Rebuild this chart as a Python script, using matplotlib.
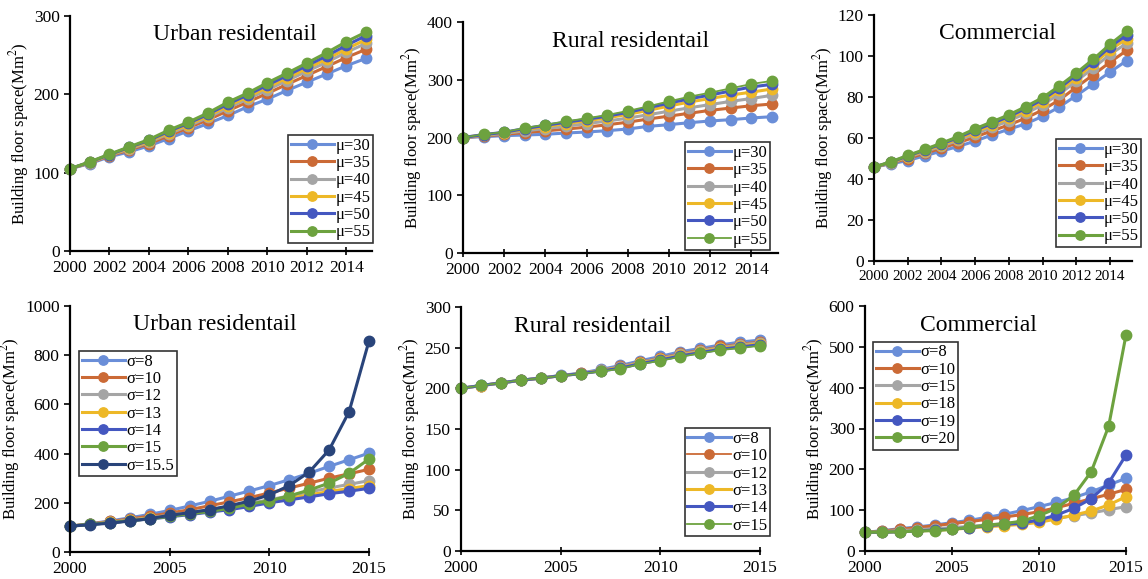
import matplotlib
matplotlib.use("Agg")
import matplotlib.pyplot as plt
from matplotlib.ticker import MultipleLocator

plt.rcParams['font.family'] = ['Liberation Serif', 'DejaVu Serif']
plt.rcParams['mathtext.fontset'] = 'stix'

years = list(range(2000, 2016))

# ---- Panel 1: Urban residential, mu scenarios
urban_mu_labels = ["μ=30", "μ=35", "μ=40", "μ=45", "μ=50", "μ=55"]
urban_mu30 = [105, 111.6, 120.2, 126.6, 134.2, 143.6, 153.4, 162.8, 173.0, 184.1, 193.9, 205.0, 215.6, 225.9, 236.5, 245.9]
urban_mu35 = [105, 112.4, 121.4, 128.9, 137.0, 147.2, 157.3, 167.6, 179.0, 190.2, 201.2, 212.8, 224.1, 235.4, 247.0, 257.5]
urban_mu40 = [105, 112.9, 122.1, 130.2, 138.8, 149.6, 159.6, 170.5, 182.7, 194.1, 205.8, 217.6, 229.5, 240.9, 253.7, 265.0]
urban_mu45 = [105, 113.2, 122.6, 131.2, 140.0, 151.2, 161.4, 172.6, 185.2, 196.7, 209.0, 220.9, 233.1, 245.0, 258.0, 270.0]
urban_mu50 = [105, 113.5, 123.1, 132.2, 141.3, 152.8, 163.1, 174.6, 187.6, 199.3, 211.8, 224.1, 236.6, 249.0, 262.5, 275.0]
urban_mu55 = [105, 113.8, 123.6, 133.0, 142.3, 154.3, 164.5, 176.4, 190.0, 201.6, 214.8, 227.1, 239.9, 253.1, 267.2, 279.5]

# ---- Panel 2: Rural residential, mu scenarios
rural_mu30 = [200, 201.4, 203.2, 204.3, 205.5, 207.8, 209.5, 211.8, 214.7, 219.3, 222.2, 225.7, 228.6, 230.9, 233.8, 236.0]
rural_mu35 = [200, 202.5, 205.5, 208.5, 211.5, 214.5, 218.0, 222.0, 226.5, 232.0, 237.0, 242.0, 247.0, 251.0, 255.0, 258.0]
rural_mu40 = [200, 203.5, 207.0, 211.5, 215.5, 219.5, 224.0, 228.5, 233.5, 239.5, 245.5, 251.5, 257.0, 262.5, 267.5, 273.0]
rural_mu45 = [200, 204.5, 208.5, 214.0, 219.0, 224.0, 229.0, 234.0, 240.0, 247.0, 254.5, 261.5, 267.5, 273.5, 278.5, 284.0]
rural_mu50 = [200, 205.0, 209.0, 215.5, 221.0, 226.5, 231.5, 237.0, 243.5, 251.5, 259.5, 267.0, 273.5, 280.5, 287.5, 292.0]
rural_mu55 = [200, 205.5, 209.5, 216.5, 222.2, 228.0, 233.2, 239.0, 245.9, 254.0, 262.6, 270.7, 277.6, 285.1, 292.6, 298.0]

# ---- Panel 3: Commercial, mu scenarios
comm_mu30 = [45.8, 47.4, 49.0, 51.3, 53.6, 55.9, 58.5, 61.5, 64.3, 66.9, 70.6, 75.2, 80.7, 86.4, 92.2, 97.8]
comm_mu35 = [45.8, 47.8, 50.0, 52.5, 55.0, 57.7, 60.5, 63.5, 66.4, 69.7, 73.7, 78.6, 84.8, 90.8, 97.0, 102.8]
comm_mu40 = [45.8, 48.0, 50.6, 53.3, 56.0, 58.9, 62.0, 65.2, 68.4, 72.0, 76.2, 81.5, 87.7, 94.2, 100.8, 106.3]
comm_mu45 = [45.8, 48.1, 50.9, 53.7, 56.6, 59.6, 63.0, 66.3, 69.6, 73.4, 77.7, 83.2, 89.4, 96.0, 103.0, 108.5]
comm_mu50 = [45.8, 48.3, 51.2, 54.1, 57.1, 60.2, 63.8, 67.1, 70.5, 74.4, 78.8, 84.4, 90.7, 97.3, 104.5, 110.3]
comm_mu55 = [45.8, 48.4, 51.5, 54.4, 57.5, 60.7, 64.5, 67.9, 71.3, 75.3, 79.7, 85.4, 91.7, 98.4, 105.7, 112.2]

# ---- Panel 4: Urban residential, sigma scenarios
urban_sig_labels = ["σ=8", "σ=10", "σ=12", "σ=13", "σ=14", "σ=15", "σ=15.5"]
urban_s8 = [105, 115, 126, 139, 153, 169, 187, 206, 227, 248, 270, 294, 320, 348, 375, 402]
urban_s10 = [105, 114, 124, 134, 146, 158, 172, 188, 204, 221, 240, 260, 280, 300, 318, 336]
urban_s12 = [105, 113, 121, 130, 139, 150, 160, 172, 185, 198, 212, 228, 244, 260, 275, 290]
urban_s13 = [105, 113, 120, 129, 137, 147, 157, 168, 180, 193, 205, 218, 232, 246, 258, 270]
urban_s14 = [105, 112, 119, 127, 134, 143, 152, 162, 172, 185, 200, 212, 224, 237, 247, 259]
urban_s15 = [105, 112, 119, 127, 135, 145, 155, 165, 178, 195, 208, 228, 252, 280, 320, 378]
urban_s155 = [105, 111, 117, 126, 136, 149, 160, 172, 188, 207, 232, 270, 325, 415, 570, 858]

# ---- Panel 5: Rural residential, sigma scenarios
rural_sig_labels = ["σ=8", "σ=10", "σ=12", "σ=13", "σ=14", "σ=15"]
rural_s8 = [200, 203.3, 206.6, 209.8, 212.6, 215.8, 218.6, 223.2, 228.1, 233.9, 239.2, 245.0, 249.0, 253.2, 256.9, 259.3]
rural_s10 = [200, 203.3, 206.6, 209.9, 212.6, 215.7, 218.4, 222.6, 227.1, 232.7, 237.8, 243.2, 247.4, 251.6, 255.0, 257.5]
rural_s12 = [200, 203.4, 206.6, 209.9, 212.6, 215.6, 218.2, 222.0, 226.2, 231.7, 236.5, 241.7, 245.9, 250.0, 253.3, 256.0]
rural_s13 = [200, 203.4, 206.7, 209.9, 212.5, 215.5, 218.1, 221.7, 225.6, 231.0, 235.6, 240.7, 244.8, 249.0, 252.0, 255.0]
rural_s14 = [200, 203.5, 206.7, 210.0, 212.5, 215.5, 218.0, 221.2, 224.8, 230.4, 234.8, 239.8, 243.9, 248.0, 250.8, 253.7]
rural_s15 = [200, 203.5, 206.7, 210.0, 212.5, 215.4, 217.8, 220.7, 224.0, 229.8, 233.9, 238.8, 242.9, 247.0, 249.5, 252.4]

# ---- Panel 6: Commercial, sigma scenarios
comm_sig_labels = ["σ=8", "σ=10", "σ=15", "σ=18", "σ=19", "σ=20"]
comm_s8 = [45.7, 49.8, 54.7, 58.8, 63.7, 69.4, 75.0, 82.4, 89.8, 98.8, 108.6, 119.0, 130.6, 145.0, 161.6, 178.0]
comm_s10 = [45.7, 49.0, 53.0, 57.0, 62.0, 67.0, 71.8, 77.6, 83.3, 89.0, 96.3, 106.0, 116.7, 128.0, 138.8, 151.0]
comm_s15 = [45.7, 47.3, 50.0, 52.0, 54.7, 57.0, 60.4, 63.7, 67.0, 71.0, 75.0, 80.0, 86.5, 93.0, 101.2, 108.6]
comm_s18 = [45.7, 45.9, 47.3, 49.0, 50.6, 53.0, 56.3, 59.6, 62.0, 65.3, 70.2, 78.4, 88.0, 98.0, 112.7, 133.0]
comm_s19 = [45.7, 46.0, 47.0, 49.0, 51.5, 54.0, 57.0, 62.0, 65.0, 68.0, 76.0, 88.0, 104.5, 128.0, 166.5, 235.0]
comm_s20 = [45.7, 46.5, 47.0, 49.0, 50.0, 53.0, 58.0, 63.0, 67.0, 73.0, 86.5, 104.5, 136.0, 194.0, 305.0, 529.0]

C_LBLUE = "#6A8ED8"
C_ORANGE = "#CB6A36"
C_GREY = "#A5A5A5"
C_YELLOW = "#EDB827"
C_BLUE = "#4457C0"
C_GREEN = "#6DA23F"
C_NAVY = "#29447A"

W, H = 1148, 579
fig = plt.figure(figsize=(W / 100, H / 100), dpi=100)


def add_ax(x0, x1, ytop, ybot):
    return fig.add_axes([x0 / W, 1 - ybot / H, (x1 - x0) / W, (ybot - ytop) / H])


def style(ax, ymax, ystep, xticks, xmax, title, title_xy, xtick_fs=12.5):
    ax.set_ylim(0, ymax)
    ax.yaxis.set_major_locator(MultipleLocator(ystep))
    ax.set_xlim(2000, xmax)
    ax.set_xticks(xticks)
    ax.set_xticklabels([str(t) for t in xticks])
    for s in ["top", "right"]:
        ax.spines[s].set_visible(False)
    for s in ["left", "bottom"]:
        ax.spines[s].set_linewidth(1.6)
    ax.tick_params(axis="both", labelsize=12.5, width=1.2, length=4, direction="out")
    ax.tick_params(axis="x", direction="inout", length=6, labelsize=xtick_fs)
    ax.set_ylabel("Building floor space(Mm$^2$)", fontsize=12, labelpad=2)
    ax.text(title_xy[0], title_xy[1], title, transform=ax.transAxes, fontsize=17,
            ha="center", va="center")
    ax.patch.set_alpha(0)


def draw(ax, series, labels, colors, lws):
    for y, lab, c, lw in zip(series, labels, colors, lws):
        ax.plot(years, y, color=c, lw=lw, marker="o", ms=7.5, label=lab, clip_on=False)


def legend(ax, loc, anchor):
    lg = ax.legend(loc=loc, bbox_to_anchor=(anchor[0] / W, 1 - anchor[1] / H),
                   bbox_transform=fig.transFigure, fontsize=12, frameon=True,
                   fancybox=False, edgecolor="black", borderpad=0.15,
                   labelspacing=0.08, handlelength=2.6, handletextpad=0.1,
                   borderaxespad=0, markerscale=0.9)
    lg.get_frame().set_linewidth(1.2)


cols6 = [C_LBLUE, C_ORANGE, C_GREY, C_YELLOW, C_BLUE, C_GREEN]
top_xt = list(range(2000, 2015, 2))
bot_xt = [2000, 2005, 2010, 2015]

# Panel 1
ax1 = add_ax(70, 372, 16, 251)
draw(ax1, [urban_mu30, urban_mu35, urban_mu40, urban_mu45, urban_mu50, urban_mu55],
     urban_mu_labels, cols6, [2.2] * 6)
style(ax1, 300, 100, top_xt, 2015.3, "Urban residentail", (0.546, 0.92))
legend(ax1, "lower right", (373, 243))

# Panel 2
ax2 = add_ax(463, 778, 22, 253)
draw(ax2, [rural_mu30, rural_mu35, rural_mu40, rural_mu45, rural_mu50, rural_mu55],
     urban_mu_labels, cols6, [2.2, 2.2, 2.2, 2.2, 2.2, 1.3])
style(ax2, 400, 100, top_xt, 2015.3, "Rural residentail", (0.533, 0.915))
legend(ax2, "lower right", (770, 250))

# Panel 3
ax3 = add_ax(874, 1132, 15, 261)
draw(ax3, [comm_mu30, comm_mu35, comm_mu40, comm_mu45, comm_mu50, comm_mu55],
     urban_mu_labels, cols6, [2.2] * 6)
style(ax3, 120, 20, top_xt, 2015.3, "Commercial", (0.48, 0.926), xtick_fs=11)
legend(ax3, "lower right", (1141, 247))

# Panel 4
ax4 = add_ax(70, 369, 306, 552)
draw(ax4, [urban_s8, urban_s10, urban_s12, urban_s13, urban_s14, urban_s15, urban_s155],
     urban_sig_labels, cols6 + [C_NAVY], [2.2] * 7)
style(ax4, 1000, 200, bot_xt, 2015, "Urban residentail", (0.485, 0.923))
legend(ax4, "upper left", (79, 351))

# Panel 5
ax5 = add_ax(461, 760, 307, 551)
draw(ax5, [rural_s8, rural_s10, rural_s12, rural_s13, rural_s14, rural_s15],
     rural_sig_labels, cols6, [2.2, 1.3, 2.2, 2.2, 2.2, 1.3])
style(ax5, 300, 50, bot_xt, 2015, "Rural residentail", (0.44, 0.92))
legend(ax5, "lower right", (770, 536))

# Panel 6
ax6 = add_ax(865, 1126, 306, 551)
draw(ax6, [comm_s8, comm_s10, comm_s15, comm_s18, comm_s19, comm_s20],
     comm_sig_labels, cols6, [2.2] * 6)
style(ax6, 600, 100, bot_xt, 2015, "Commercial", (0.433, 0.92))
legend(ax6, "upper left", (873, 342))

fig.savefig("out.png", dpi=100)
